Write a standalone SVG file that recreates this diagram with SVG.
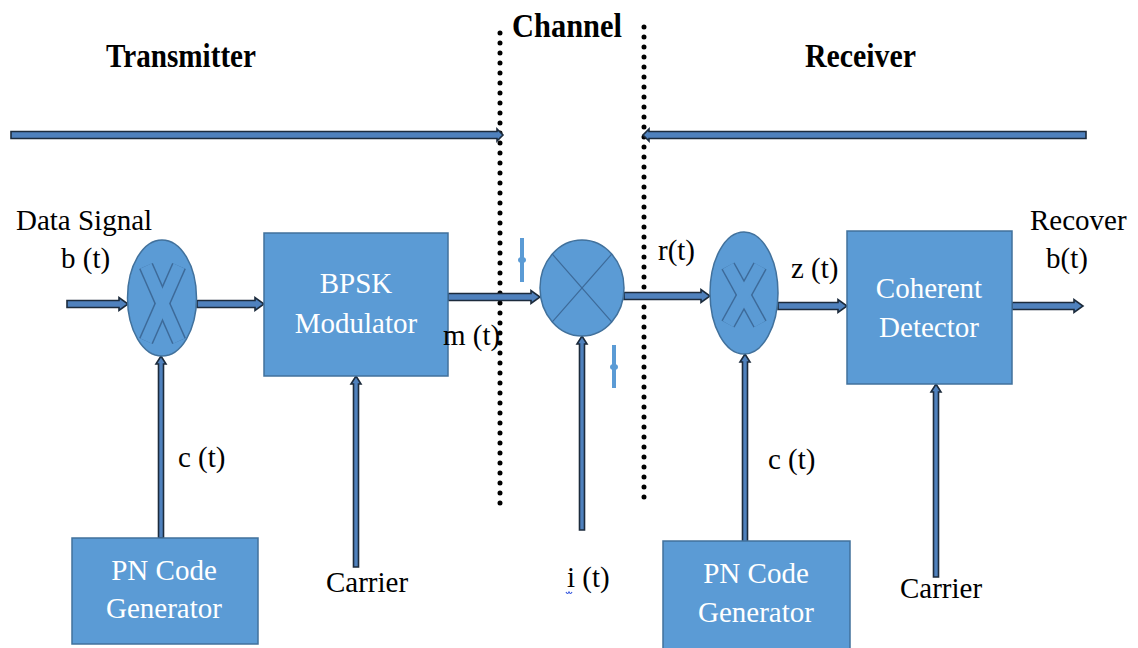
<svg xmlns="http://www.w3.org/2000/svg" width="1138" height="648" viewBox="0 0 1138 648">
<style>
.blk{fill:#5b9bd5;stroke:#41719c;stroke-width:1.5}
.arr{fill:#4f81bd;stroke:#1c2b3c;stroke-width:1.6;stroke-linejoin:miter}
.dot{stroke:#000;stroke-width:5;stroke-linecap:round;stroke-dasharray:0 10;fill:none}
.xo{stroke:#3d6a99;stroke-width:15;stroke-linecap:butt}
.xi{stroke:#5b9bd5;stroke-width:12;stroke-linecap:butt}
.pm{stroke:#5b9bd5;stroke-width:4}
</style>
<rect width="1138" height="648" fill="#ffffff"/>
<g id="headings" font-family="Liberation Serif" font-size="34" font-weight="bold" fill="#000000">
<text x="106" y="67" textLength="150" lengthAdjust="spacingAndGlyphs">Transmitter</text>
<text x="512" y="37" textLength="110" lengthAdjust="spacingAndGlyphs">Channel</text>
<text x="805" y="67" textLength="111" lengthAdjust="spacingAndGlyphs">Receiver</text>
</g>
<g id="boundaries">
<line class="dot" x1="500" y1="33" x2="500" y2="505"/>
<line class="dot" x1="644" y1="27" x2="644" y2="507"/>
</g>
<g id="connectors">
<polygon class="arr" points="11,131.5 497,131.5 497,129 503,135 497,141 497,138.5 11,138.5"/>
<polygon class="arr" points="1086,131.5 649,131.5 649,129 643,135 649,141 649,138.5 1086,138.5"/>
<polygon class="arr" points="67,300.5 119,300.5 119,297.5 128,304 119,310.5 119,307.5 67,307.5"/>
<polygon class="arr" points="197,300.5 255,300.5 255,297.5 264,304 255,310.5 255,307.5 197,307.5"/>
<polygon class="arr" points="448,293.5 531,293.5 531,290.5 540,297 531,303.5 531,300.5 448,300.5"/>
<polygon class="arr" points="624,292.5 701,292.5 701,289.5 710,296 701,302.5 701,299.5 624,299.5"/>
<polygon class="arr" points="778,302.5 838,302.5 838,299.5 847,306 838,312.5 838,309.5 778,309.5"/>
<polygon class="arr" points="1012,302.5 1074,302.5 1074,299.5 1083,306 1074,312.5 1074,309.5 1012,309.5"/>
<polygon class="arr" points="158.5,538 158.5,364 156,364 161,356 166,364 163.5,364 163.5,538"/>
<polygon class="arr" points="353.5,567 353.5,384 351,384 356,376 361,384 358.5,384 358.5,567"/>
<polygon class="arr" points="579.5,530 579.5,344 577,344 582,336 587,344 584.5,344 584.5,530"/>
<polygon class="arr" points="742.5,545 742.5,362 740,362 745,354 750,362 747.5,362 747.5,545"/>
<polygon class="arr" points="933.5,577 933.5,392 931,392 936,384 941,392 938.5,392 938.5,577"/>
</g>
<g id="mixer-tx">
<ellipse class="blk" cx="162" cy="298" rx="34.5" ry="58"/>
<line class="xo" x1="146" y1="266" x2="179" y2="341"/>
<line class="xo" x1="179" y1="266" x2="146" y2="341"/>
<line class="xi" x1="146" y1="266" x2="179" y2="341"/>
<line class="xi" x1="179" y1="266" x2="146" y2="341"/>
</g>
<g id="bpsk">
<rect class="blk" x="264" y="233" width="184" height="143"/>
<g font-family="Liberation Serif" font-size="29" fill="#ffffff" text-anchor="middle">
<text x="356" y="293">BPSK</text>
<text x="356" y="333">Modulator</text>
</g>
</g>
<g id="channel-mixer">
<ellipse class="blk" cx="582" cy="288" rx="42" ry="48"/>
<line x1="552.3" y1="254.1" x2="611.7" y2="321.9" stroke="#3d6a99" stroke-width="1.2"/>
<line x1="611.7" y1="254.1" x2="552.3" y2="321.9" stroke="#3d6a99" stroke-width="1.2"/>
</g>
<g id="noise-marks">
<line class="pm" x1="522" y1="238" x2="522" y2="282"/>
<ellipse cx="522" cy="260" rx="4" ry="3" fill="#5b9bd5"/>
<line class="pm" x1="614" y1="345" x2="614" y2="388"/>
<ellipse cx="614" cy="367" rx="4" ry="3" fill="#5b9bd5"/>
</g>
<g id="mixer-rx">
<ellipse class="blk" cx="744" cy="293" rx="34" ry="61"/>
<line class="xo" x1="728" y1="266" x2="760" y2="324"/>
<line class="xo" x1="760" y1="266" x2="728" y2="324"/>
<line class="xi" x1="728" y1="266" x2="760" y2="324"/>
<line class="xi" x1="760" y1="266" x2="728" y2="324"/>
</g>
<g id="coherent">
<rect class="blk" x="847" y="231" width="165" height="153"/>
<g font-family="Liberation Serif" font-size="29" fill="#ffffff" text-anchor="middle">
<text x="929" y="298">Coherent</text>
<text x="929" y="337">Detector</text>
</g>
</g>
<g id="pn-tx">
<rect class="blk" x="72" y="538" width="186" height="106"/>
<g font-family="Liberation Serif" font-size="29" fill="#ffffff" text-anchor="middle">
<text x="164" y="580">PN Code</text>
<text x="164" y="618">Generator</text>
</g>
</g>
<g id="pn-rx">
<rect class="blk" x="663" y="541" width="187" height="110"/>
<g font-family="Liberation Serif" font-size="29" fill="#ffffff" text-anchor="middle">
<text x="756" y="583">PN Code</text>
<text x="756" y="622">Generator</text>
</g>
</g>
<g id="labels" font-family="Liberation Serif" font-size="29" fill="#000000">
<text x="16" y="230">Data Signal</text>
<text x="61" y="268">b (t)</text>
<text x="178" y="467">c (t)</text>
<text x="326" y="592">Carrier</text>
<text x="443" y="345">m (t)</text>
<text x="567" y="587">i (t)</text>
<text x="658" y="260">r(t)</text>
<text x="791" y="278">z (t)</text>
<text x="768" y="469">c (t)</text>
<text x="900" y="598">Carrier</text>
<text x="1030" y="230">Recover</text>
<text x="1046" y="268">b(t)</text>
</g>
<path d="M566,592 q1.5,3 3,0 q1.5,3 3,0" fill="none" stroke="#3355dd" stroke-width="1.2"/>
</svg>
